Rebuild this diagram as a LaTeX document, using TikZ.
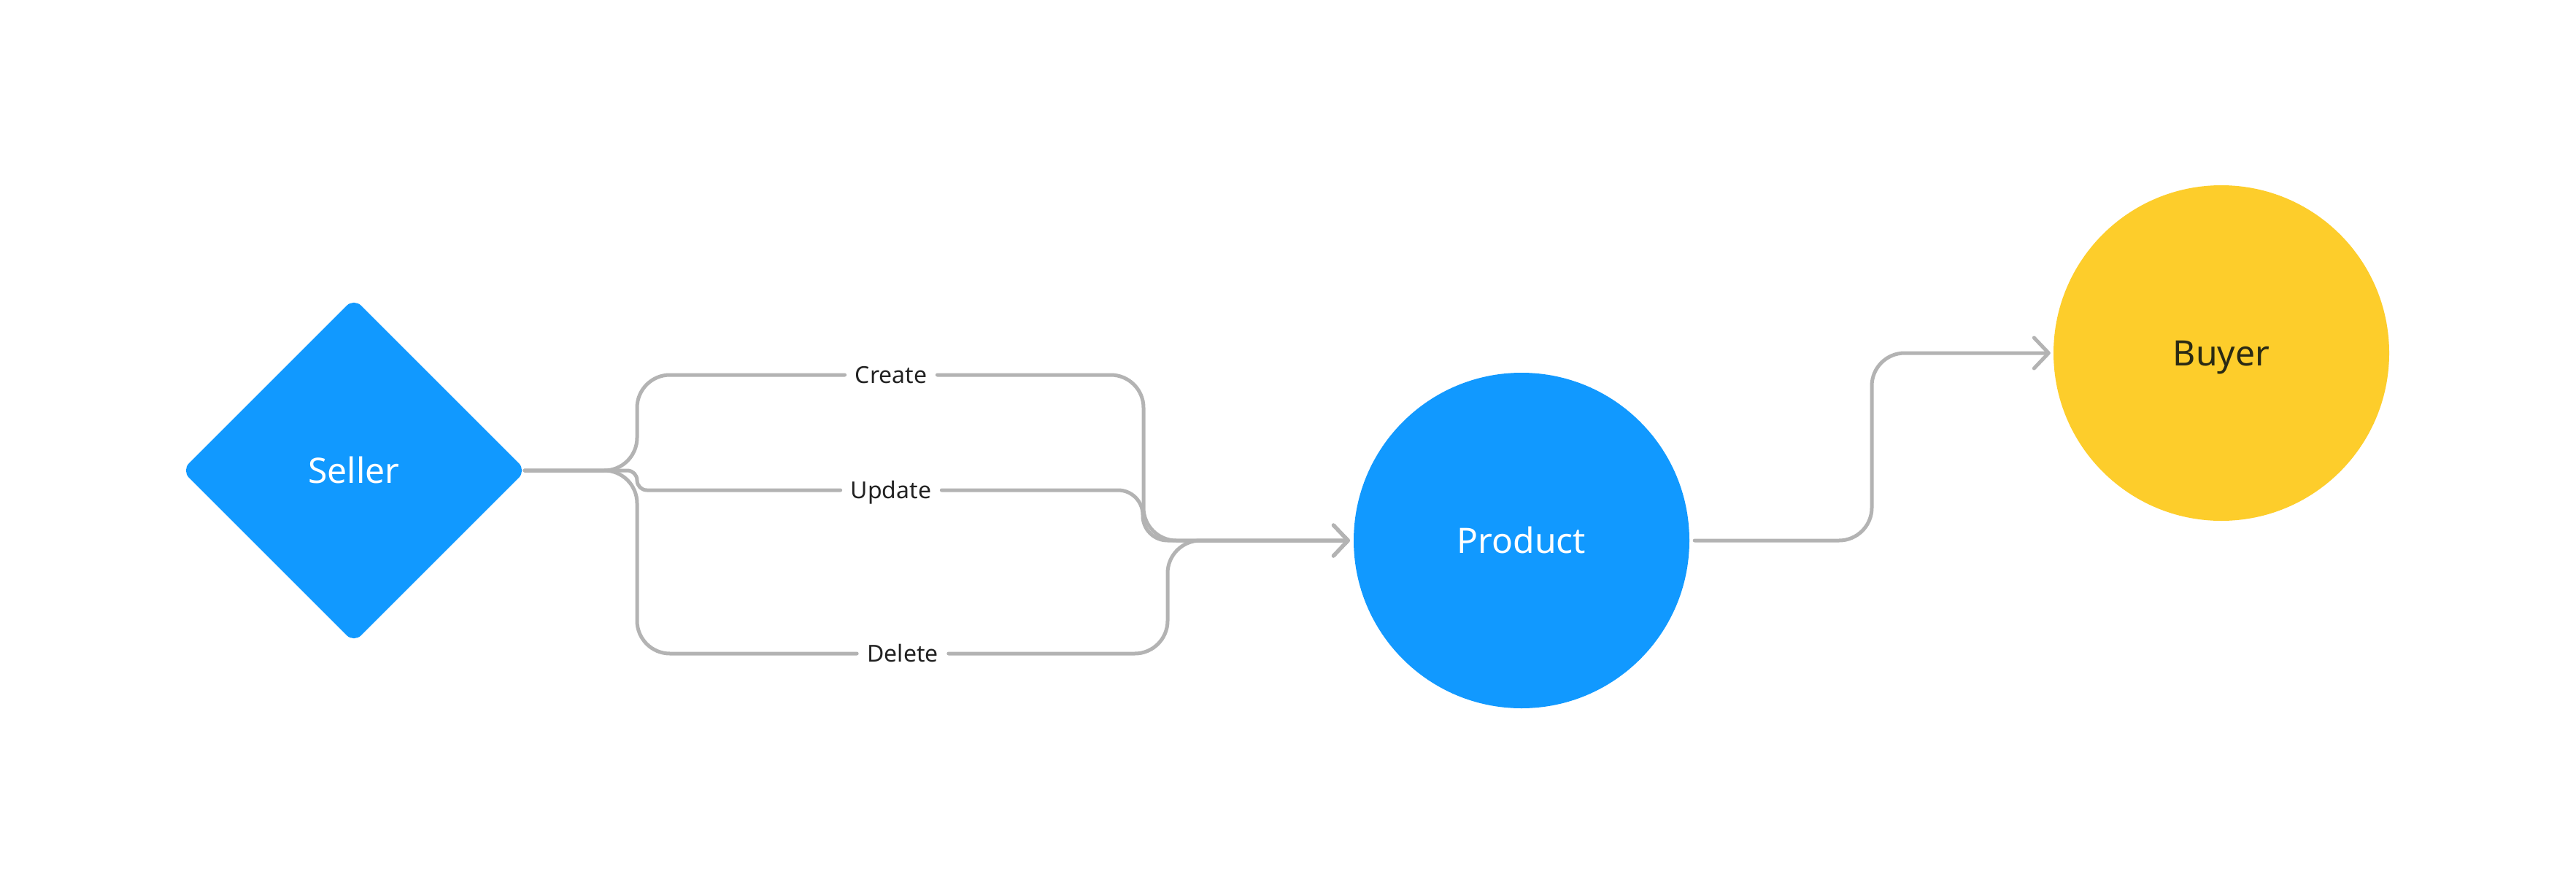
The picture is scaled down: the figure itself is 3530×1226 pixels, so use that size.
\documentclass[tikz,border=0pt]{standalone}
\usepackage{fontspec}
\setmainfont{Noto Sans}
\usetikzlibrary{shapes.geometric,arrows.meta}
\definecolor{nodeblue}{HTML}{1199FF}
\definecolor{nodeyellow}{HTML}{FDCD2B}
\definecolor{linegrey}{HTML}{B3B3B3}
\definecolor{labeltext}{HTML}{222222}
\definecolor{buyertext}{HTML}{2A2A14}
\begin{document}
\begin{tikzpicture}[x=1pt,y=-1pt,
  conn/.style={draw=linegrey, line width=5pt, line cap=round, line join=round},
  tip/.style={-{Straight Barb[length=20pt,width=42pt,line cap=round,line join=round]}},
  lbl/.style={font=\fontsize{32}{38}\selectfont, text=labeltext, inner xsep=14pt, inner ysep=4pt, text height=23pt, text depth=0pt},
  big/.style={font=\fontsize{48}{56}\selectfont, text height=34pt, text depth=0pt}]
\useasboundingbox[fill=white] (0,0) rectangle (3530,1226);
\node[diamond, aspect=1, minimum width=472pt, minimum height=472pt, inner sep=0pt, fill=nodeblue, rounded corners=14pt, text=white, big] (seller) at (485,645) {Seller};
\node[circle, minimum size=460pt, inner sep=0pt, fill=nodeblue, text=white, big] (product) at (2085,741) {Product};
\node[circle, minimum size=460pt, inner sep=0pt, fill=nodeyellow, text=buyertext, big] (buyer) at (3044,484) {Buyer};
\node[lbl] (create) at (1221,514) {Create};
\node[lbl] (update) at (1221,672) {Update};
\node[lbl] (delete) at (1237,896) {Delete};

\coordinate (split) at (873,645);
\coordinate (start) at (719,645);
\coordinate (in) at ([xshift=-5pt]product.west);
\coordinate (out) at ([xshift=7pt]product.east);
\coordinate (buyin) at ([xshift=-4pt]buyer.west);

\draw[conn, rounded corners=45pt] (start) -- (split) |- (create.west);
\draw[conn, rounded corners=45pt] (start) -- (split) |- (delete.west);
\draw[conn, rounded corners=13.5pt] (start) -- (split) |- (update.west);

\draw[conn, tip, rounded corners=45pt] (create.east) -| (1567,741) -- (in);
\draw[conn, tip, rounded corners=34pt] (update.east) -| (1566,741) -- (in);
\draw[conn, tip, rounded corners=45pt] (delete.east) -| (1600,741) -- (in);

\draw[conn, tip, rounded corners=45pt] (out) -| (2565,484) -- (buyin);
\end{tikzpicture}
\end{document}
